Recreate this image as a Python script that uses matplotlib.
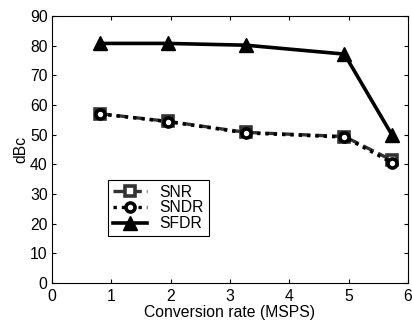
import matplotlib
matplotlib.use('Agg')
import matplotlib.pyplot as plt

# Conversion rate (MSPS) and measured dynamic performance (dBc)
rate = [0.81, 1.96, 3.27, 4.93, 5.73]
snr = [57.1, 54.5, 50.8, 49.4, 41.4]
sndr = [57.0, 54.4, 50.6, 49.2, 40.6]
sfdr = [80.8, 80.8, 80.2, 77.2, 50.0]

plt.rcParams['font.family'] = ['Liberation Sans', 'DejaVu Sans']
plt.rcParams['font.size'] = 11.3

fig = plt.figure(figsize=(4.12, 3.23), dpi=100)
ax = fig.add_axes([0.126, 0.124, 0.864, 0.826])

ax.plot(rate, snr, color='#333333', linestyle=(0, (3.5, 1.5)), linewidth=2.4,
        marker='s', markersize=7.5, markerfacecolor='white', markeredgewidth=2.6,
        label='SNR')
ax.plot(rate, sndr, color='black', linestyle=(0, (1, 1.5)), linewidth=2.4,
        marker='o', markersize=6.5, markerfacecolor='white', markeredgewidth=2.6,
        label='SNDR')
ax.plot(rate, sfdr, color='black', linestyle='-', linewidth=2.6,
        marker='^', markersize=10.5, markerfacecolor='black', label='SFDR')

ax.set_xlim(0, 6)
ax.set_ylim(0, 90)
ax.set_xticks(range(0, 7))
ax.set_yticks(range(0, 91, 10))
ax.tick_params(direction='in', length=3, width=0.8, top=True, right=True,
               labeltop=False, labelright=False)
ax.tick_params(axis='x', pad=4)
ax.tick_params(axis='y', pad=3)
for s in ax.spines.values():
    s.set_linewidth(0.8)
ax.set_xlabel('Conversion rate (MSPS)', labelpad=1)
ax.set_ylabel('dBc', labelpad=1)

leg = ax.legend(loc='upper left', bbox_to_anchor=(0.157, 0.386), fancybox=False,
                edgecolor='black', framealpha=1, handlelength=2.2,
                borderpad=0.3, labelspacing=0.05, handletextpad=0.8,
                borderaxespad=0)
leg.get_frame().set_linewidth(0.8)

fig.savefig('out.png', dpi=100)
